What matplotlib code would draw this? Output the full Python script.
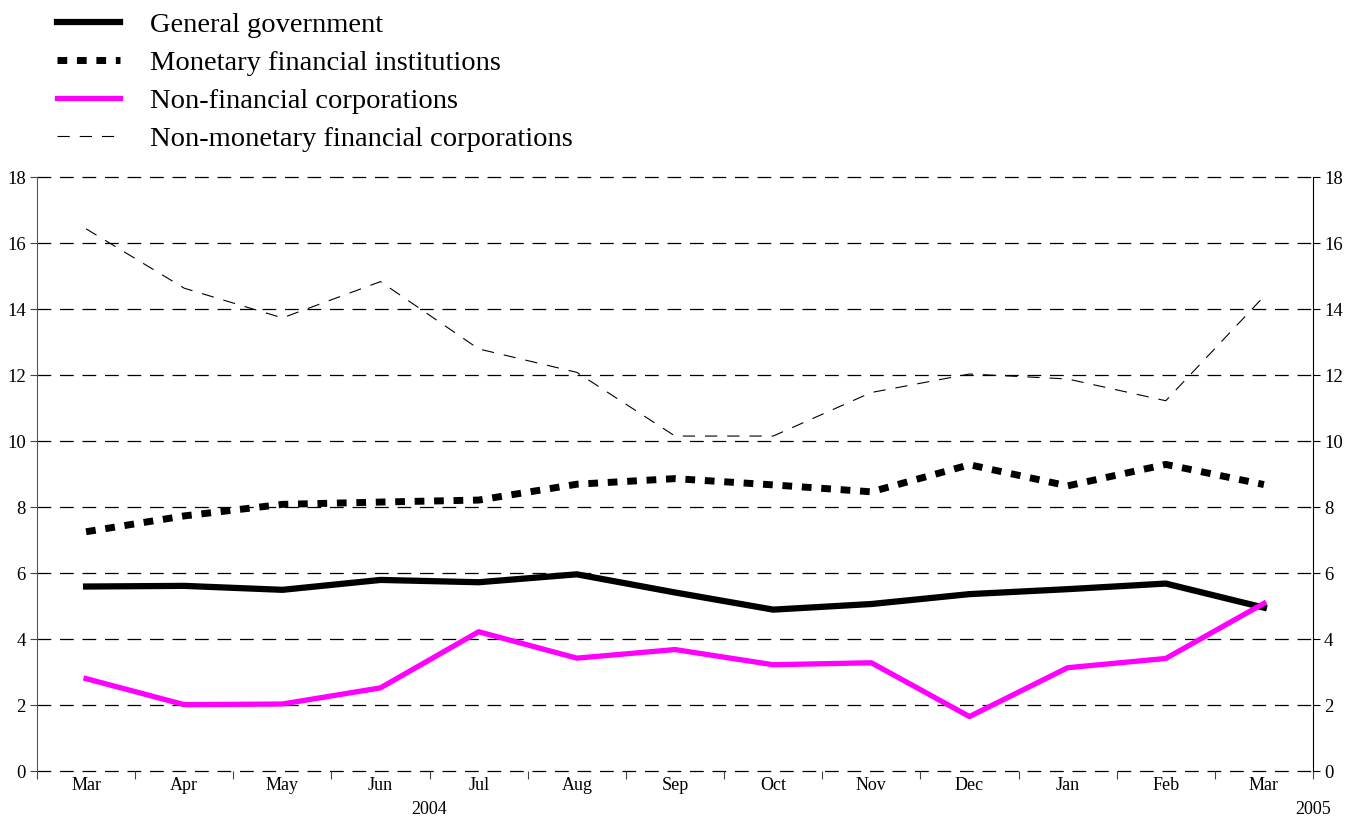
import matplotlib

matplotlib.use("Agg")
import matplotlib.pyplot as plt

plt.rcParams["font.family"] = ["Liberation Serif", "DejaVu Serif"]

months = ["Mar", "Apr", "May", "Jun", "Jul", "Aug", "Sep", "Oct", "Nov", "Dec", "Jan", "Feb", "Mar"]
years = ["2004", "2005"]
year_pos = [3.5, 12.5]

general_government = [5.59, 5.61, 5.49, 5.79, 5.72, 5.96, 5.41, 4.89, 5.06, 5.36, 5.51, 5.68, 4.95]
monetary_fi = [7.25, 7.73, 8.08, 8.15, 8.21, 8.69, 8.86, 8.67, 8.46, 9.28, 8.64, 9.29, 8.68]
non_financial = [2.80, 2.01, 2.03, 2.52, 4.22, 3.42, 3.68, 3.22, 3.28, 1.65, 3.13, 3.41, 5.08]
non_monetary_fc = [16.43, 14.63, 13.73, 14.83, 12.79, 12.08, 10.15, 10.15, 11.47, 12.03, 11.88, 11.22, 14.38]

y_ticks = list(range(0, 19, 2))

fig = plt.figure(figsize=(13.56, 8.19), dpi=100)
ax = fig.add_axes([37 / 1356, 1 - 771 / 819, (1313 - 37) / 1356, (771 - 177) / 819])

x = list(range(len(months)))
ax.plot(x, general_government, color="black", linewidth=4.5,
        solid_joinstyle="miter", label="General government", zorder=4)
ax.plot(x, monetary_fi, color="black", linewidth=5.0,
        linestyle=(0, (1.4, 1.4)), label="Monetary financial institutions", zorder=4)
ax.plot(x, non_financial, color="#ff00ff", linewidth=3.8,
        label="Non-financial corporations", zorder=4)
ax.plot(x, non_monetary_fc, color="black", linewidth=0.8,
        linestyle=(0, (11, 9)), label="Non-monetary financial corporations", zorder=4)

ax.set_xlim(-0.5, len(months) - 0.5)
ax.set_ylim(0, 18)
ax.set_yticks(y_ticks)
ax.set_yticklabels([str(v) for v in y_ticks], fontsize=13.5)

# boundaries get tick marks, month names sit in between
ax.set_xticks([i - 0.5 for i in range(len(months) + 1)])
ax.set_xticklabels([])
ax.set_xticks(x, minor=True)
ax.set_xticklabels(months, minor=True, fontsize=13)
ax.tick_params(axis="x", which="major", direction="out", length=6, color="#444444")
ax.tick_params(axis="x", which="minor", length=0, pad=4)
ax.tick_params(axis="y", direction="out", length=5, pad=3, color="#444444")

for v in y_ticks:
    ax.axhline(v, color="black", linewidth=0.9, linestyle=(0, (11, 7)),
               zorder=1, clip_on=False)

for s in ("top", "bottom", "right"):
    ax.spines[s].set_visible(False)
ax.spines["left"].set_color("#555555")

for label, pos in zip(years, year_pos):
    ax.annotate(label, xy=(pos, 0), xycoords=("data", "axes fraction"),
                xytext=(0, -38), textcoords="offset pixels",
                ha="center", va="center", fontsize=13)

ax2 = ax.twinx()
ax2.set_ylim(0, 18)
ax2.set_yticks(y_ticks)
ax2.set_yticklabels([str(v) for v in y_ticks], fontsize=13.5)
ax2.tick_params(axis="y", direction="out", length=5, pad=3)
for s in ("top", "bottom", "left"):
    ax2.spines[s].set_visible(False)
ax2.spines["right"].set_color("black")

handles, labels = ax.get_legend_handles_labels()
fig.legend(handles, labels, loc="upper left", bbox_to_anchor=(46 / 1356, 1 - 1 / 819),
           frameon=False, fontsize=20.5, handlelength=2.2, handletextpad=1.05,
           labelspacing=0.42, borderaxespad=0)

fig.savefig("out.png", dpi=100)
